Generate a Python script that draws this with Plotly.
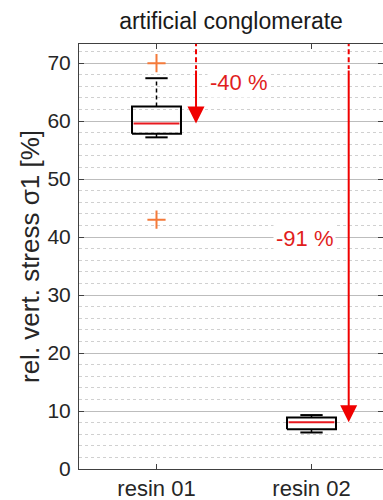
import plotly.graph_objects as go

# ---- data ----
categories = ["resin 01", "resin 02"]
cat_pos = [1, 2]
q1 = [57.8, 6.85]
median = [59.6, 8.05]
q3 = [62.5, 8.9]
whisker_low = [57.2, 6.3]
whisker_high = [67.4, 9.3]
outlier_x = [1, 1]
outlier_y = [70.0, 43.0]
arrow_x = [1.255, 2.24]
arrow_from = [100, 100]          # reference level (100 %), above the visible range
arrow_solid_from = [69, 69]
arrow_to = median
arrow_labels = ["-40 %", "-91 %"]
label_x = [1.526, 1.958]
label_y = [66.6, 39.7]
y_ticks = [0, 10, 20, 30, 40, 50, 60, 70]
y_max = 73.3

FONT = "Liberation Sans, Arial, Helvetica, sans-serif"
RED = "#f00000"
TXT_RED = "#e11d1d"
ORANGE = "#f47a3a"

half_w = 0.158
cap_w = 0.072

fig = go.Figure()

for i, xc in enumerate(cat_pos):
    # box outline
    fig.add_trace(go.Scatter(
        x=[xc - half_w, xc + half_w, xc + half_w, xc - half_w, xc - half_w],
        y=[q1[i], q1[i], q3[i], q3[i], q1[i]],
        mode="lines", line=dict(color="black", width=2), hoverinfo="skip", showlegend=False))
    # whiskers (dashed)
    fig.add_trace(go.Scatter(
        x=[xc, xc, None, xc, xc],
        y=[q3[i], whisker_high[i], None, q1[i], whisker_low[i]],
        mode="lines", line=dict(color="black", width=1.5, dash="4px,3px"),
        hoverinfo="skip", showlegend=False))
    # caps
    fig.add_trace(go.Scatter(
        x=[xc - cap_w, xc + cap_w, None, xc - cap_w, xc + cap_w],
        y=[whisker_high[i], whisker_high[i], None, whisker_low[i], whisker_low[i]],
        mode="lines", line=dict(color="black", width=2), hoverinfo="skip", showlegend=False))
    # median
    fig.add_trace(go.Scatter(
        x=[xc - half_w + 0.01, xc + half_w - 0.01], y=[median[i], median[i]],
        mode="lines", line=dict(color="#e8191f", width=2), hoverinfo="skip", showlegend=False))

# outliers
fig.add_trace(go.Scatter(
    x=outlier_x, y=outlier_y, mode="markers",
    marker=dict(symbol="cross-thin", size=13, line=dict(color=ORANGE, width=2), color=ORANGE),
    hoverinfo="skip", showlegend=False))

# dashed part of the arrows
for i in range(2):
    fig.add_trace(go.Scatter(
        x=[arrow_x[i], arrow_x[i]], y=[arrow_from[i], arrow_solid_from[i]],
        mode="lines", line=dict(color=RED, width=2, dash="5px,3px"),
        hoverinfo="skip", showlegend=False))
    fig.add_annotation(
        x=arrow_x[i], y=arrow_to[i], ax=arrow_x[i], ay=arrow_solid_from[i],
        xref="x", yref="y", axref="x", ayref="y", text="",
        showarrow=True, arrowhead=2, arrowsize=1.7, arrowwidth=2, arrowcolor=RED,
        standoff=0)
    fig.add_annotation(
        x=label_x[i], y=label_y[i], xref="x", yref="y", text=arrow_labels[i],
        showarrow=False, bgcolor="white", borderpad=2,
        font=dict(family=FONT, size=22, color=TXT_RED))

fig.update_layout(
    width=383, height=500,
    margin=dict(l=79, r=0, t=44, b=31),
    paper_bgcolor="white", plot_bgcolor="white",
    font=dict(family=FONT, color="#262626"),
    title=dict(text="artificial conglomerate", x=0.5, xref="paper",
               y=1 - 21 / 500, yref="container", yanchor="middle",
               font=dict(family=FONT, size=23, color="#1a1a1a")),
    showlegend=False,
)

fig.update_xaxes(
    range=[0.5, 0.5 + 304 / 155], tickmode="array", tickvals=cat_pos, ticktext=categories,
    showgrid=False, zeroline=False, showline=True, linecolor="#404040", linewidth=1,
    mirror="ticks", ticks="inside", ticklen=5, tickcolor="#404040", automargin=False,
    tickfont=dict(family=FONT, size=22, color="#262626"),
)
fig.update_yaxes(
    range=[0, y_max], tickmode="array", tickvals=y_ticks,
    showgrid=True, gridcolor="#bdbdbd", gridwidth=1, zeroline=False,
    showline=True, linecolor="#404040", linewidth=1, mirror="ticks",
    ticks="inside", ticklen=5, tickcolor="#404040", automargin=False,
    ticklabelstandoff=3,
    tickfont=dict(family=FONT, size=21, color="#262626"),
    minor=dict(dtick=2, showgrid=True, gridcolor="#d0d0d0", griddash="dot", gridwidth=1, ticks=""),
    title=dict(text="rel. vert. stress σ1 [%]", font=dict(family=FONT, size=26, color="#262626"), standoff=0),
)

fig.write_html("out.html", config={"displayModeBar": False},
               post_script="document.body.style.margin='0';")
